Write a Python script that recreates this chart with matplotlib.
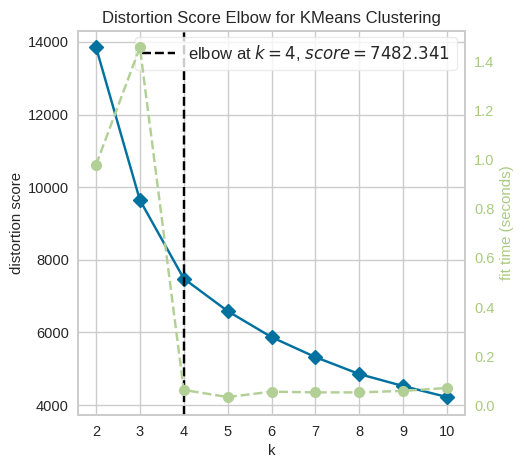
import matplotlib
matplotlib.use('Agg')
import matplotlib.pyplot as plt

k = [2, 3, 4, 5, 6, 7, 8, 9, 10]
distortion = [13854, 9643, 7482, 6587, 5870, 5320, 4853, 4523, 4220]
fit_time = [0.978, 1.455, 0.064, 0.035, 0.057, 0.054, 0.054, 0.06, 0.072]
elbow_k = 4
elbow_label = 'elbow at $k=4$, $score=7482.341$'

plt.rcParams['font.family'] = ['Liberation Sans', 'DejaVu Sans']
plt.rcParams['font.size'] = 10.5

blue = '#01719F'
green = '#B2D095'
green_text = '#A8CB80'
grid = '#CCCCCC'
text = '#262626'

fig, ax = plt.subplots(figsize=(5.24, 4.68), dpi=100)
fig.subplots_adjust(left=0.1489, right=0.8874, top=0.9338, bottom=0.1132)

ax.plot(k, distortion, color=blue, marker='D', markersize=7, linewidth=1.75, zorder=3)
line = ax.axvline(elbow_k, color='black', linestyle='--', linewidth=1.75, zorder=4)
ax.set_title('Distortion Score Elbow for KMeans Clustering', fontsize=12, color=text)
ax.set_xlabel('k', color=text, fontsize=10.8)
ax.set_ylabel('distortion score', color=text, fontsize=10.8, labelpad=3)
ax.set_xlim(1.59, 10.41)
ax.set_ylim(3725, 14300)
ax.set_xticks(k)
ax.set_yticks([4000, 6000, 8000, 10000, 12000, 14000])
ax.grid(True, color=grid, linewidth=1)
ax.set_axisbelow(True)
ax.tick_params(axis='x', length=0, colors=text, pad=7)
ax.tick_params(axis='y', length=0, colors=text, pad=6.5)
for s in ax.spines.values():
    s.set_color(grid)
    s.set_linewidth(1.25)

leg = ax.legend([line], [elbow_label], loc='upper left', bbox_to_anchor=(0.147, 0.9855),
                borderaxespad=0, framealpha=0.8, edgecolor='#E6E6E6', labelcolor=text,
                prop={'size': 12})
leg.set_zorder(5)

ax2 = ax.twinx()
ax2.plot(k, fit_time, color=green, marker='o', markersize=7, linewidth=1.75, linestyle='--', zorder=2)
ax2.set_ylabel('fit time (seconds)', color=green_text, fontsize=10.8)
ax2.set_ylim(-0.038, 1.522)
ax2.set_yticks([0.0, 0.2, 0.4, 0.6, 0.8, 1.0, 1.2, 1.4])
ax2.tick_params(axis='y', length=0, colors=green_text, pad=6.5)
ax2.grid(False)
for s in ax2.spines.values():
    s.set_color(grid)
    s.set_linewidth(1.25)

fig.savefig('out.png', dpi=100)
